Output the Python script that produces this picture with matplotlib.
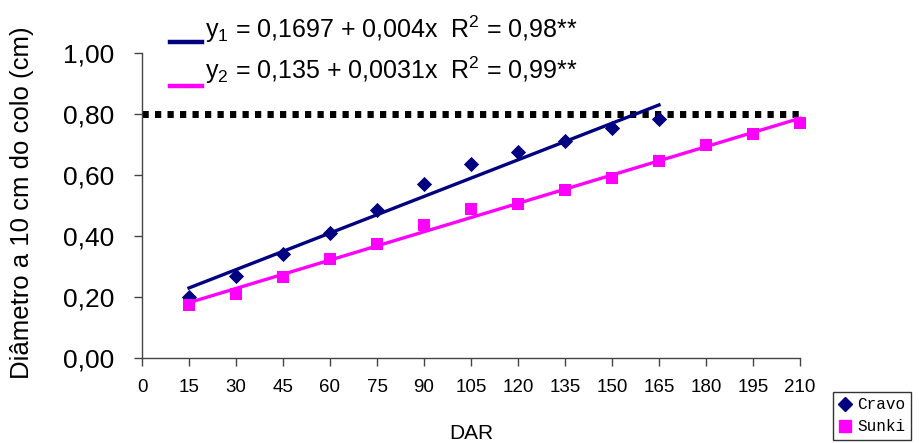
import matplotlib
matplotlib.use("Agg")
import matplotlib.pyplot as plt
from matplotlib.lines import Line2D
import numpy as np

# Data
dar_cravo = [15, 30, 45, 60, 75, 90, 105, 120, 135, 150, 165]
cravo = [0.20, 0.27, 0.34, 0.41, 0.485, 0.57, 0.635, 0.675, 0.71, 0.755, 0.785]
dar_sunki = [15, 30, 45, 60, 75, 90, 105, 120, 135, 150, 165, 180, 195, 210]
sunki = [0.175, 0.21, 0.265, 0.325, 0.375, 0.435, 0.49, 0.505, 0.55, 0.59, 0.645, 0.70, 0.735, 0.77]
# regression coefficients (intercept, slope)
coef_cravo = (0.1697, 0.004)
coef_sunki = (0.135, 0.0031)
limit_value = 0.80
x_ticks = list(range(0, 211, 15))
y_ticks = [0.0, 0.2, 0.4, 0.6, 0.8, 1.0]
y_tick_labels = ["0,00", "0,20", "0,40", "0,60", "0,80", "1,00"]
eq_labels = [r"y$_1$ = 0,1697 + 0,004x  R$^2$ = 0,98**",
             r"y$_2$ = 0,135 + 0,0031x  R$^2$ = 0,99**"]
series_names = ["Cravo", "Sunki"]

navy = "#000080"
magenta = "#FF00FF"

plt.rcParams['font.family'] = ['Liberation Sans', 'DejaVu Sans']
plt.rcParams['mathtext.fontset'] = 'custom'
plt.rcParams['mathtext.rm'] = 'Liberation Sans'
plt.rcParams['mathtext.it'] = 'Liberation Sans'

W, H = 919, 443
fig = plt.figure(figsize=(W/100, H/100), dpi=100)
ax = fig.add_axes([142/W, 1-358/H, (800-142)/W, (358-53)/H])

# limit line
ax.plot([0, 210], [limit_value, limit_value], color='black', lw=5,
        linestyle=(0, (0.9, 0.9)), clip_on=False, zorder=2)

# trend lines
xc = np.array([dar_cravo[0], dar_cravo[-1]])
xs = np.array([dar_sunki[0], dar_sunki[-1]])
ax.plot(xc, coef_cravo[0] + coef_cravo[1]*xc, color=navy, lw=2.4, clip_on=False, zorder=3)
ax.plot(xs, coef_sunki[0] + coef_sunki[1]*xs, color=magenta, lw=2.4, clip_on=False, zorder=3)

# points
ax.scatter(dar_cravo, cravo, marker='D', s=60, color=navy, clip_on=False, zorder=4, linewidths=0)
ax.scatter(dar_sunki, sunki, marker='s', s=85, color=magenta, clip_on=False, zorder=4, linewidths=0)

ax.set_xlim(0, 210)
ax.set_ylim(0, 1.0)
ax.set_xticks(x_ticks)
ax.set_xticklabels([str(v) for v in x_ticks], fontsize=13.5)
ax.set_yticks(y_ticks)
ax.set_yticklabels(y_tick_labels, fontsize=19)
for s in ['top', 'right']:
    ax.spines[s].set_visible(False)
for s in ['left', 'bottom']:
    ax.spines[s].set_color('#444444')
    ax.spines[s].set_linewidth(1.0)
ax.tick_params(axis='both', direction='out', length=6, color='#444444', width=1)
ax.tick_params(axis='x', pad=9)
ax.tick_params(axis='y', pad=14)

ax.set_xlabel("DAR", fontsize=15, labelpad=20)
ax.set_ylabel("Diâmetro a 10 cm do colo (cm)", fontsize=18.5)
ax.yaxis.set_label_coords((34-142)/658, 0.51)

# equation legend drawn in figure pixels
def fx(px):
    return px / W
def fy(py):
    return 1 - py / H

for lab, col, line_y, base_y in [(eq_labels[0], navy, 42, 38), (eq_labels[1], magenta, 86, 79)]:
    fig.add_artist(Line2D([fx(170), fx(202)], [fy(line_y), fy(line_y)], color=col, lw=3.2,
                          transform=fig.transFigure))
    fig.text(fx(205), fy(base_y), lab, fontsize=18, ha='left', va='baseline')

# series legend
hc = Line2D([], [], marker='D', color=navy, lw=0, markersize=7)
hs = Line2D([], [], marker='s', color=magenta, lw=0, markersize=8)
leg2 = fig.legend([hc, hs], series_names, loc='lower left',
                  bbox_to_anchor=(833/W, 3/H), frameon=True,
                  handlelength=0.8, handletextpad=0.35, borderpad=0.35, labelspacing=0.45,
                  borderaxespad=0, prop={'family': ['Liberation Mono', 'DejaVu Sans Mono'], 'size': 11.5})
leg2.get_frame().set_edgecolor('black')
leg2.get_frame().set_linewidth(1)
leg2.get_frame().set_boxstyle('square', pad=0)

fig.savefig("out.png", dpi=100)
